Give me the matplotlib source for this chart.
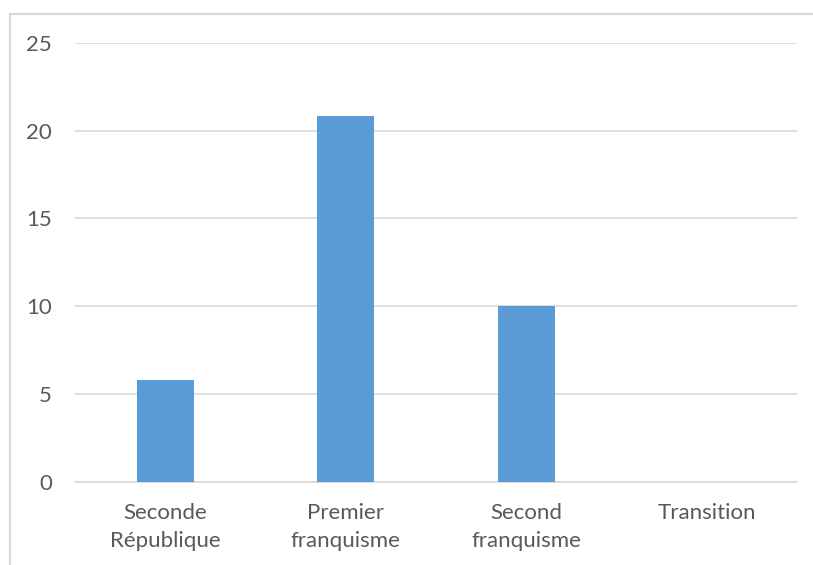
import matplotlib.pyplot as plt
from matplotlib.patches import Rectangle

# Data
categories = ['Seconde\nRépublique', 'Premier\nfranquisme', 'Second\nfranquisme', 'Transition']
values = [5.8, 20.85, 10, 0]
yticks = [0, 5, 10, 15, 20, 25]

plt.rcParams['font.family'] = ['Lato', 'DejaVu Sans']

fig = plt.figure(figsize=(8.13, 5.65), dpi=100)
ax = fig.add_axes([75 / 813, 1 - 481.7 / 565, 722 / 813, 438.7 / 565])

# chart border (cropped chart area)
fig.patches.append(Rectangle((10 / 813, -0.1), 1.2, 1 - 14 / 565 + 0.1,
                             transform=fig.transFigure, fill=False,
                             edgecolor='#d9d9d9', linewidth=1.5))

x = range(len(categories))
ax.bar(x, values, width=0.316, color='#5b9bd5', zorder=3)

ax.set_xlim(-0.5, 3.5)
ax.set_ylim(0, 25)
ax.set_yticks(yticks)
ax.set_xticks(list(x))
ax.set_xticklabels(categories, linespacing=1.55)
ax.grid(axis='y', color='#d9d9d9', linewidth=1.2, zorder=0)

for s in ['top', 'right', 'left']:
    ax.spines[s].set_visible(False)
ax.spines['bottom'].set_color('#d9d9d9')
ax.spines['bottom'].set_linewidth(1.2)
ax.tick_params(axis='both', length=0, labelsize=16, labelcolor='#595959')
ax.tick_params(axis='y', pad=16.5)
ax.tick_params(axis='x', pad=15)

fig.savefig('out.png', dpi=100)
